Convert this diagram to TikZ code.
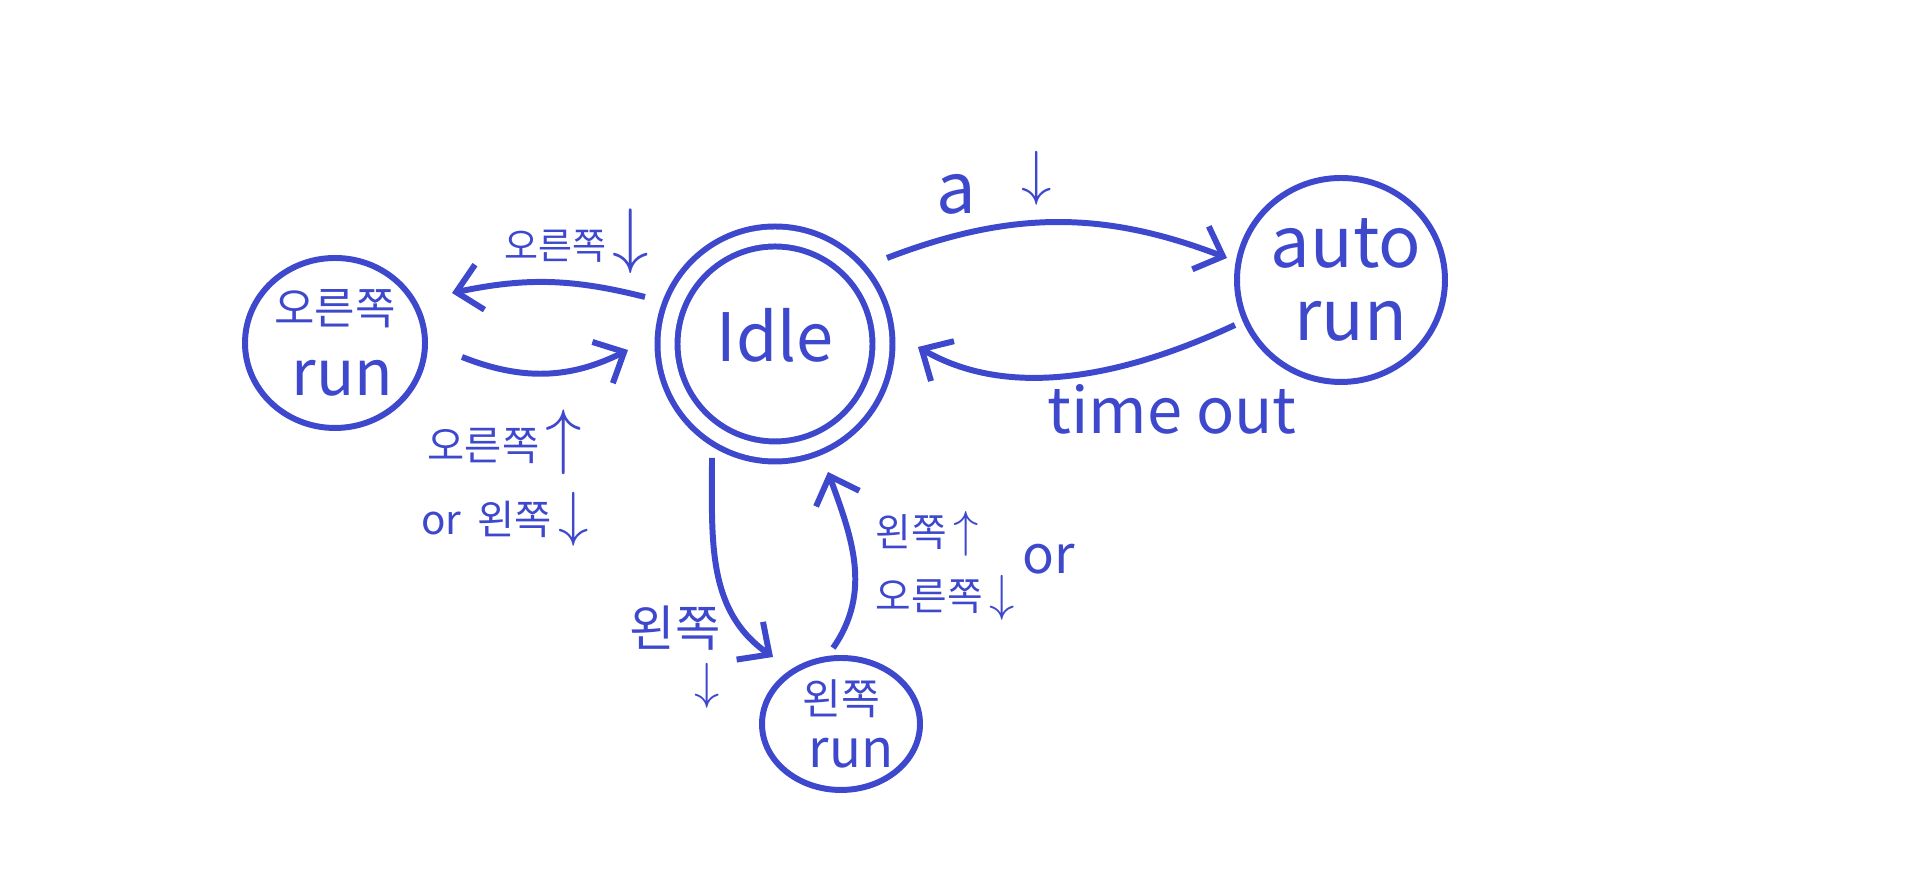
\documentclass[tikz,border=0pt]{standalone}
\usepackage{fontspec}
\setmainfont{Noto Sans CJK KR}
\usetikzlibrary{arrows.meta,shapes.geometric,calc}
\definecolor{pen}{RGB}{62,72,204}
\newcommand{\fs}[2]{\fontsize{#1}{#2}\selectfont}
\newcommand{\dnar}[1]{{\fontsize{#1}{#1}\selectfont$\downarrow$}}
\newcommand{\upar}[1]{{\fontsize{#1}{#1}\selectfont$\uparrow$}}

\begin{document}
\begin{tikzpicture}[>={Straight Barb[length=2.4mm,width=4.6mm]},
  color=pen, line width=1.7pt,
  state/.style={ellipse,draw,inner sep=-1mm,align=center},
  lbl/.style={inner sep=0pt,align=center}]
\useasboundingbox (0,0) rectangle (19.24,8.90);

% states
\node[state,circle,double,double distance=1.4mm,minimum size=2.15cm,font=\fs{19}{19}] (idle) at (7.75,5.46) {\raisebox{1.8mm}{Idle}};
\node[state,minimum width=1.8cm,minimum height=1.7cm,font=\fs{18}{20}] (rightrun) at (3.35,5.47) {{\fs{12.5}{12.5}오른쪽}\\\hspace*{1.5mm}run};
\node[state,minimum width=2.08cm,minimum height=2.04cm,font=\fs{20}{21}] (autorun) at (13.41,6.10) {\hspace*{1mm}auto\\\hspace*{2mm}run};
\node[state,minimum width=1.58cm,minimum height=1.32cm,font=\fs{15}{15}] (leftrun) at (8.41,1.66) {{\fs{12}{12}왼쪽}\\\hspace*{2mm}run};

% labels
\node[lbl,font=\fs{10.5}{12}] (rdn) at (5.77,6.49) {오른쪽\,\dnar{20}};
\node[lbl,font=\fs{11.5}{21}] (rupldn) at (5.05,4.12) {오른쪽\,\upar{20}\\or\, 왼쪽\,\dnar{18}};
\node[lbl,font=\fs{20}{20}] (adn) at (9.94,7.07) {a\hspace{4.5mm}\raisebox{2mm}{\dnar{18}}};
\node[lbl,font=\fs{18}{18}] (timeout) at (11.72,4.81) {time out};
\node[lbl,align=right,font=\fs{14}{15}] (ldn) at (6.75,2.33) {왼쪽\\\dnar{14}};
\node[lbl,align=left,font=\fs{11}{18},anchor=west] (luprdn) at (8.73,3.24) {왼쪽\,\upar{15}\\오른쪽\,\dnar{14}};
\node[lbl,font=\fs{15}{15}] (or) at (10.49,3.31) {or};

% transitions
\draw[->] ($(idle)+(-1.30,0.47)$) to[bend right=13] ($(rightrun)+(1.17,0.50)$);
\draw[->] ($(rightrun)+(1.27,-0.14)$) to[bend right=24] ($(idle)+(-1.47,-0.06)$);
\draw[->] ($(idle)+(1.12,0.86)$) to[bend left=21] ($(autorun)+(-1.14,0.22)$);
\draw[->] ($(autorun)+(-1.06,-0.45)$) to[out=205,in=-30,looseness=0.9] ($(idle)+(1.43,-0.03)$);
\draw[->] ($(idle)+(-0.63,-1.14)$) to[out=-90,in=145] ($(leftrun)+(-0.68,0.67)$);
\draw[->] ($(leftrun)+(-0.08,0.76)$) to[out=55,in=-70] ($(idle)+(0.53,-1.28)$);
\end{tikzpicture}
\end{document}
